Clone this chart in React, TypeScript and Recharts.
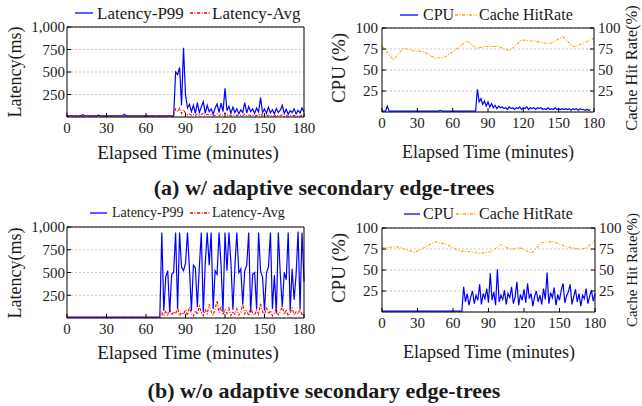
import React from 'react';
import { LineChart, Line, XAxis, YAxis, CartesianGrid } from 'recharts';

// ---------- data ----------
const STEP = 1.5; // minutes between consecutive samples
const minuteTicks = [0, 30, 60, 90, 120, 150, 180];
const latencyTicks = [250, 500, 750, 1000];
const percentTicks = [25, 50, 75, 100];

// (a) with adaptive secondary edge-trees
const aP99 = [
  12, 12, 13, 12, 12, 14, 13, 12, 25, 13, 12, 12, 13, 12, 14, 12, 20, 13, 12, 12,
  13, 12, 12, 13, 14, 12, 12, 13, 12, 30, 13, 12, 12, 13, 12, 14, 12, 12, 13, 12,
  12, 13, 12, 12, 14, 12, 13, 12, 12, 13, 12, 12, 14, 13, 12,
  500, 470, 550, 130, 770, 250, 100,
  140, 60, 130, 40, 160, 50, 110, 170, 40, 130, 60, 90, 30, 100, 145, 50, 155, 60, 320, 70,
  120, 40, 110, 50, 90, 35, 80, 50, 160, 45, 115, 60, 90, 40, 100, 55, 215, 50, 90, 40,
  110, 45, 80, 35, 95, 50, 75, 130, 40, 85, 30, 70, 50, 90, 35, 75, 45, 100, 60,
];
const aAvg = [
  8, 8, 9, 8, 8, 9, 8, 8, 10, 8, 8, 8, 9, 8, 8, 8, 9, 8, 8, 8,
  9, 8, 8, 8, 9, 8, 8, 8, 8, 11, 8, 8, 9, 8, 8, 8, 9, 8, 8, 8,
  8, 9, 8, 8, 8, 9, 8, 8, 8, 9, 8, 8, 9, 8, 8,
  90, 60, 100, 40, 80, 45, 25, 35, 20, 30, 15, 35, 20, 25, 40, 15, 30, 20, 25, 12,
  20, 35, 15, 30, 20, 45, 18, 25, 12, 22, 15, 20, 10, 18, 14, 30, 12, 22, 15, 20,
  10, 18, 14, 35, 12, 20, 10, 22, 12, 18, 10, 20, 12, 16, 25, 10, 18, 8, 15, 12,
  18, 9, 15, 10, 20, 12,
];
const aCpu = [
  1, 1, 1, 7, 1, 1, 1, 1, 1, 1, 1, 1, 1, 1, 1, 1, 1, 1, 1, 1,
  1, 1, 1, 1, 1, 1, 1, 1, 1, 1, 1, 1, 1, 2, 1, 1, 1, 1, 1, 1,
  1, 1, 1, 1, 1, 1, 1, 1, 1, 1, 1, 1, 1, 1,
  27, 12, 16, 9, 13, 7, 12, 6, 10, 5, 8, 4, 7, 5, 6, 4, 5, 3, 6, 4,
  5, 3, 5, 4, 6, 3, 5, 4, 6, 3, 5, 4, 5, 3, 5, 4, 5, 3, 4, 3,
  5, 3, 4, 3, 5, 3, 4, 3, 4, 3, 4, 3, 4, 2, 4, 3, 4, 2, 4, 3,
  3, 2, 3, 2, 3,
];
const aHitTime = [0, 9.6, 18, 26.6, 35, 45, 53.5, 60.5, 71.8, 80.3, 87.4, 98.5, 108, 118.6, 128.5, 142.6, 153.4, 162.4, 170.7, 180];
const aHitRate = [79, 62, 76, 73, 72, 64, 65.5, 72, 84.5, 76, 78, 78, 72.6, 85.7, 84.5, 81, 89.7, 77.7, 81.8, 87.7];

// (b) without adaptive secondary edge-trees
const bP99 = [
  10, 10, 11, 10, 10, 10, 11, 10, 10, 10, 11, 10, 10, 10, 10, 11, 10, 10, 10, 11,
  10, 10, 10, 10, 11, 10, 10, 10, 10, 11, 10, 10, 10, 11, 10, 10, 10, 10, 11, 10,
  10, 10, 11, 10, 10, 10, 10, 11,
  940, 80, 450, 520, 60, 480, 500, 940, 100, 940, 560, 520, 600, 940, 540, 80, 580, 550, 120, 560,
  940, 60, 600, 940, 580, 940, 100, 520, 480, 940, 580, 70, 940, 520, 940, 600, 90, 560, 940, 500,
  540, 150, 520, 580, 940, 60, 480, 500, 100, 940, 520, 450, 80, 500, 560, 940, 100, 470, 50, 940,
  480, 120, 500, 420, 940, 80, 540, 200, 480, 950, 100, 940, 400,
];
const bAvg = [
  6, 6, 7, 6, 6, 6, 7, 6, 6, 6, 7, 6, 6, 6, 6, 7, 6, 6, 6, 7,
  6, 6, 6, 6, 7, 6, 6, 6, 6, 7, 6, 6, 6, 7, 6, 6, 6, 6, 7, 6,
  6, 6, 7, 6, 6, 6, 6, 7,
  60, 20, 80, 35, 100, 30, 70, 45, 110, 25, 60, 40, 90, 30, 120, 50, 20, 80, 40, 130,
  60, 25, 90, 45, 150, 70, 30, 100, 190, 60, 130, 35, 90, 50, 110, 25, 70, 40, 100, 30,
  60, 150, 45, 80, 25, 110, 55, 30, 90, 40, 160, 70, 30, 120, 45, 80, 25, 60, 100, 35,
  70, 130, 40, 90, 25, 60, 110, 30, 70, 45, 100, 30, 60,
];
const bCpu = [
  1, 1, 1, 1, 1, 1, 1, 1, 1, 1, 1, 1, 1, 1, 1, 1, 1, 1, 1, 1,
  1, 1, 1, 1, 1, 1, 1, 1, 1, 1, 1, 1, 1, 1, 1, 1, 1, 1, 1, 1,
  1, 1, 1, 1, 1, 1,
  30, 12, 22, 8, 18, 25, 10, 20, 14, 33, 9, 22, 16, 28, 11, 46, 14, 24, 8, 51,
  12, 20, 15, 26, 9, 22, 17, 30, 10, 18, 36, 8, 21, 14, 27, 11, 34, 16, 22, 7,
  19, 25, 12, 20, 9, 28, 15, 47, 10, 23, 17, 29, 8, 21, 14, 26, 34, 11, 19, 24,
  33, 9, 18, 27, 12, 22, 7, 20, 16, 28, 10, 19, 26, 13, 22,
];
const bHitTime = [0, 12.4, 28, 45, 54.8, 64.6, 74.4, 82.8, 92.7, 99.7, 108.2, 116.7, 126.5, 135, 144.8, 156, 167.4, 173, 180];
const bHitRate = [76.5, 77.7, 71, 83.7, 80.5, 73, 71.8, 69.8, 71.8, 80.5, 74.6, 76.5, 69.8, 82.5, 83.7, 77.7, 74.6, 76.5, 85];

// ---------- helpers ----------
const toSeries = (vals: number[]) => vals.map((v, i) => ({ t: i * STEP, v }));
const toPairs = (ts: number[], vs: number[]) => ts.map((t, i) => ({ t, v: vs[i] }));

const FONT = '"Liberation Serif", "Times New Roman", serif';
const INK = '#1a1a1a';
const BLUE = '#0000ff';
const RED = '#ff0000';
const ORANGE = '#ffa500';
const DASHDOT = '3 1.5 1 1.5';
const tickStyle = { fontFamily: FONT, fontSize: 15, fill: INK };
const fmtLatency = (v: number) => (v === 1000 ? '1,000' : String(v));

type TxtProps = { x: number; y: number; size: number; children: React.ReactNode; anchor?: 'start' | 'middle'; rotate?: boolean; bold?: boolean };
const Txt = ({ x, y, size, children, anchor = 'start', rotate = false, bold = false }: TxtProps) => (
  <div
    style={{
      position: 'absolute',
      left: x,
      top: y,
      fontFamily: FONT,
      fontSize: size,
      lineHeight: 1,
      whiteSpace: 'nowrap',
      color: INK,
      fontWeight: bold ? 700 : 400,
      transform: rotate
        ? 'translate(-50%, -50%) rotate(-90deg)'
        : anchor === 'middle'
        ? 'translate(-50%, -50%)'
        : 'translate(0, -50%)',
    }}
  >
    {children}
  </div>
);

const Sample = ({ x1, x2, y, color, dash }: { x1: number; x2: number; y: number; color: string; dash?: string }) => (
  <svg style={{ position: 'absolute', left: x1, top: y - 4 }} width={x2 - x1} height={8}>
    <line x1={0} x2={x2 - x1} y1={4} y2={4} stroke={color} strokeWidth={1.3} strokeDasharray={dash} />
  </svg>
);

type LatProps = { top: number; p99: number[]; avg: number[]; xAxisH: number };
const LatencyPanel = ({ top, p99, avg, xAxisH }: LatProps) => (
  <div style={{ position: 'absolute', left: 0, top, width: 320, height: 170 }}>
    <LineChart width={320} height={170} margin={{ top: 26, left: 7, right: 15, bottom: 0 }}>
      <CartesianGrid vertical={false} stroke="#c8c8c8" strokeDasharray="2 2" />
      <XAxis dataKey="t" type="number" domain={[0, 180]} ticks={minuteTicks} interval={0}
        tickSize={-4} tickMargin={9} height={xAxisH} tick={tickStyle}
        axisLine={{ stroke: '#000' }} tickLine={{ stroke: '#000' }} />
      <XAxis xAxisId="top" orientation="top" type="number" domain={[0, 180]} ticks={minuteTicks} interval={0}
        tickSize={-4} height={1} tick={false} axisLine={{ stroke: '#000' }} tickLine={{ stroke: '#000' }} />
      <YAxis type="number" domain={[0, 1000]} ticks={latencyTicks} interval={0} tickSize={-4} tickMargin={6}
        width={60} tick={tickStyle} tickFormatter={fmtLatency} axisLine={{ stroke: '#000' }} tickLine={{ stroke: '#000' }} />
      <YAxis yAxisId="r" orientation="right" type="number" domain={[0, 1000]} ticks={latencyTicks} interval={0}
        tickSize={-4} width={1} tick={false} axisLine={{ stroke: '#000' }} tickLine={{ stroke: '#000' }} />
      <Line data={toSeries(p99)} dataKey="v" type="linear" stroke={BLUE} strokeWidth={1.2} dot={false} isAnimationActive={false} />
      <Line data={toSeries(avg)} dataKey="v" type="linear" stroke={RED} strokeWidth={1.1} strokeDasharray={DASHDOT} dot={false} isAnimationActive={false} />
    </LineChart>
  </div>
);

type CpuProps = { top: number; cpu: number[]; hitT: number[]; hitV: number[]; right: number };
const CpuPanel = ({ top, cpu, hitT, hitV, right }: CpuProps) => (
  <div style={{ position: 'absolute', left: 320, top, width: 322, height: 170 }}>
    <LineChart width={322} height={170} margin={{ top: 27, left: 12, right, bottom: 0 }}>
      <CartesianGrid vertical={false} stroke="#c8c8c8" strokeDasharray="2 2" />
      <XAxis dataKey="t" type="number" domain={[0, 180]} ticks={minuteTicks} interval={0}
        tickSize={-4} tickMargin={9} height={58} tick={tickStyle}
        axisLine={{ stroke: '#000' }} tickLine={{ stroke: '#000' }} />
      <XAxis xAxisId="top" orientation="top" type="number" domain={[0, 180]} ticks={minuteTicks} interval={0}
        tickSize={-4} height={1} tick={false} axisLine={{ stroke: '#000' }} tickLine={{ stroke: '#000' }} />
      <YAxis type="number" domain={[0, 100]} ticks={percentTicks} interval={0} tickSize={-4} tickMargin={8}
        width={50} tick={tickStyle} axisLine={{ stroke: '#000' }} tickLine={{ stroke: '#000' }} />
      <YAxis yAxisId="r" orientation="right" type="number" domain={[0, 100]} ticks={percentTicks} interval={0}
        tickSize={-4} tickMargin={8} width={40} tick={tickStyle} axisLine={{ stroke: '#000' }} tickLine={{ stroke: '#000' }} />
      <Line data={toSeries(cpu)} dataKey="v" type="linear" stroke={BLUE} strokeWidth={1.2} dot={false} isAnimationActive={false} />
      <Line data={toPairs(hitT, hitV)} yAxisId="r" dataKey="v" type="linear" stroke={ORANGE} strokeWidth={1.1} strokeDasharray={DASHDOT} dot={false} isAnimationActive={false} />
    </LineChart>
  </div>
);

export default function App() {
  return (
    <div style={{ position: 'absolute', left: 0, top: 0, width: 642, height: 406, background: '#fff', overflow: 'hidden' }}>
      <LatencyPanel top={0} p99={aP99} avg={aAvg} xAxisH={53} />
      <CpuPanel top={0} cpu={aCpu} hitT={aHitTime} hitV={aHitRate} right={8} />
      <LatencyPanel top={200} p99={bP99} avg={bAvg} xAxisH={52} />
      <CpuPanel top={200} cpu={bCpu} hitT={bHitTime} hitV={bHitRate} right={7} />

      {/* legends (a) */}
      <Sample x1={75} x2={93} y={13} color={BLUE} />
      <Txt x={97} y={13} size={17}>Latency-P99</Txt>
      <Sample x1={190} x2={210} y={13} color={RED} dash={DASHDOT} />
      <Txt x={212} y={13} size={17}>Latency-Avg</Txt>
      <Sample x1={400} x2={418} y={15} color={BLUE} />
      <Txt x={423} y={15} size={16}>CPU</Txt>
      <Sample x1={455} x2={477} y={15} color={ORANGE} dash={DASHDOT} />
      <Txt x={479} y={15} size={16}>Cache HitRate</Txt>

      {/* legends (b) */}
      <Sample x1={90} x2={107} y={213} color={BLUE} />
      <Txt x={112} y={213} size={14}>Latency-P99</Txt>
      <Sample x1={190} x2={210} y={213} color={RED} dash={DASHDOT} />
      <Txt x={212} y={213} size={14}>Latency-Avg</Txt>
      <Sample x1={404} x2={420} y={214} color={BLUE} />
      <Txt x={423} y={214} size={16}>CPU</Txt>
      <Sample x1={456} x2={477} y={214} color={ORANGE} dash={DASHDOT} />
      <Txt x={479} y={214} size={16}>Cache HitRate</Txt>

      {/* axis titles (a) */}
      <Txt x={15} y={72} size={18} rotate>Latency(ms)</Txt>
      <Txt x={188} y={152} size={19} anchor="middle">Elapsed Time (minutes)</Txt>
      <Txt x={338} y={68} size={19} rotate>CPU (%)</Txt>
      <Txt x={488} y={152} size={18} anchor="middle">Elapsed Time (minutes)</Txt>
      <Txt x={632} y={68} size={16.5} rotate>Cache Hit Rate(%)</Txt>

      {/* axis titles (b) */}
      <Txt x={15} y={273} size={18} rotate>Latency(ms)</Txt>
      <Txt x={188} y={352} size={19} anchor="middle">Elapsed Time (minutes)</Txt>
      <Txt x={338} y={268} size={19} rotate>CPU (%)</Txt>
      <Txt x={489} y={352} size={18} anchor="middle">Elapsed Time (minutes)</Txt>
      <Txt x={632} y={270} size={15} rotate>Cache Hit Rate(%)</Txt>

      {/* captions */}
      <Txt x={324} y={188} size={22} anchor="middle" bold>(a) w/ adaptive secondary edge-trees</Txt>
      <Txt x={324} y={391} size={22} anchor="middle" bold>(b) w/o adaptive secondary edge-trees</Txt>
    </div>
  );
}
